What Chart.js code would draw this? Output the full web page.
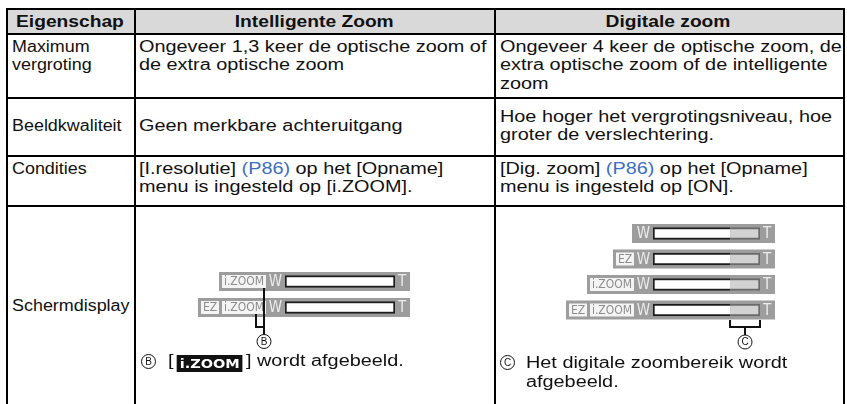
<!DOCTYPE html>
<html>
<head>
<meta charset="utf-8">
<script src="https://cdn.jsdelivr.net/npm/chart.js@4.4.1/dist/chart.umd.min.js"></script>
<style>
  html, body { margin: 0; padding: 0; background: #fff; }
  #page { position: relative; width: 847px; height: 404px; overflow: hidden; font-family: "Liberation Sans", Arial, sans-serif; color: #111; }
  .rule { position: absolute; background: #000; }
  .txt { position: absolute; white-space: pre; font-size: 16px; line-height: 18.5px; transform-origin: 0 0; }
  .head { position: absolute; height: 25px; line-height: 25px; text-align: center; font-weight: bold; font-size: 16px; }
  .head span { display: inline-block; transform: scaleX(1.2); }
  .link { color: #3d6ebf; }
  .circ { position: absolute; width: 13px; height: 13px; border: 1px solid #111; border-radius: 50%; font-size: 10px; line-height: 13px; text-align: center; }
  .zbox { display: inline-block; background: #111; color: #fff; font-family: "Liberation Sans Narrow", "DejaVu Sans Condensed", sans-serif; font-weight: bold; font-size: 13px; line-height: 17px; padding: 0 2px; margin: 0 3px; vertical-align: -2px; }
  canvas { position: absolute; }
</style>
</head>
<body>
<div id="page">
  <canvas id="intelligent" width="359" height="198" style="left:135px; top:206px; width:359px; height:198px;"></canvas>
  <canvas id="digital" width="348" height="198" style="left:495px; top:206px; width:348px; height:198px;"></canvas>
</div>
<script>
const columnTitles = ['Eigenschap', 'Intelligente Zoom', 'Digitale zoom'];
const properties = [['Maximum', 'vergroting'], ['Beeldkwaliteit'], ['Condities'], ['Schermdisplay']];
const intelligentZoom = [
  ['Ongeveer 1,3 keer de optische zoom of', 'de extra optische zoom'],
  ['Geen merkbare achteruitgang'],
  ['[I.resolutie] (P86) op het [Opname]', 'menu is ingesteld op [i.ZOOM].']
];
const digitalZoom = [
  ['Ongeveer 4 keer de optische zoom, de', 'extra optische zoom of de intelligente', 'zoom'],
  ['Hoe hoger het vergrotingsniveau, hoe', 'groter de verslechtering.'],
  ['[Dig. zoom] (P86) op het [Opname]', 'menu is ingesteld op [ON].']
];

// zoom bar displays: optical part (white) and digital part (light grey), in % of the bar
const intelligentRows = ['i.ZOOM', 'EZ i.ZOOM'];
const intelligentOptical = [100, 100];
const intelligentDigital = [0, 0];
const digitalRows = ['', 'EZ', 'i.ZOOM', 'EZ i.ZOOM'];
const digitalOptical = [72, 72, 72, 72];
const digitalDigital = [28, 28, 28, 28];

const intelligentNote = 'wordt afgebeeld.';
const digitalNote = ['Het digitale zoombereik wordt', 'afgebeeld.'];

const colEdges = [6, 134, 494, 843];
const rowEdges = [8, 33, 97, 155, 205];
const tableBottom = 408;
const rowAlign = ['top', 'middle', 'top', 'middle'];
const textPad = [6, 4.5, 5.5];
const lineH = 18.5;

const page = document.getElementById('page');

function add(cls, css, html) {
  const d = document.createElement('div');
  d.className = cls;
  Object.assign(d.style, css);
  if (html !== undefined) d.innerHTML = html;
  page.appendChild(d);
  return d;
}

function markup(line) {
  return line.replace('(P86)', '<span class="link">(P86)</span>');
}

// header background
add('', { position: 'absolute', left: colEdges[0] + 'px', top: rowEdges[0] + 'px',
  width: (colEdges[3] - colEdges[0]) + 'px', height: (rowEdges[1] - rowEdges[0]) + 'px', background: '#d9d9d9' });

columnTitles.forEach((t, c) => {
  add('head', { left: colEdges[c] + 'px', top: (rowEdges[0] + 1) + 'px', width: (colEdges[c + 1] - colEdges[c]) + 'px' },
    '<span>' + t + '</span>');
});

// body cells
for (let r = 0; r < properties.length; r++) {
  const top = rowEdges[r + 1];
  const bottom = r + 2 < rowEdges.length ? rowEdges[r + 2] : tableBottom;
  const cells = [properties[r], intelligentZoom[r], digitalZoom[r]];
  cells.forEach((lines, c) => {
    if (!lines) return;
    const y = rowAlign[r] === 'top' ? top + 4.75 : (top + bottom) / 2 - lines.length * lineH / 2;
    const scale = c === 0 ? 1.12 : 1.24;
    add('txt', { left: (colEdges[c] + textPad[c]) + 'px', top: y + 'px', transform: 'scaleX(' + scale + ')' },
      lines.map(markup).join('\n'));
  });
}

// rules
rowEdges.forEach(y => add('rule', { left: colEdges[0] + 'px', top: y + 'px', width: (colEdges[3] - colEdges[0] + 1.5) + 'px', height: '1.5px' }));
colEdges.forEach(x => add('rule', { left: x + 'px', top: rowEdges[0] + 'px', width: '1.5px', height: (tableBottom - rowEdges[0]) + 'px' }));

// captions under the displays
add('circ', { left: '141px', top: '353.5px' }, 'B');
add('txt', { left: '168px', top: '352.2px', transform: 'scaleX(1.24)' },
  '[<span class="zbox">i.ZOOM</span>] ' + intelligentNote);
add('circ', { left: '500px', top: '354.5px' }, 'C');
add('txt', { left: '526px', top: '353.2px', transform: 'scaleX(1.24)', lineHeight: '19px' }, digitalNote.join('\n'));

const narrow = '"Liberation Sans Narrow", "DejaVu Sans Condensed", sans-serif';

const zoomBars = {
  id: 'zoomBars',
  beforeDatasetsDraw(chart) {
    const ctx = chart.ctx;
    const xs = chart.scales.x;
    const x0 = xs.getPixelForValue(0), x1 = xs.getPixelForValue(100);
    const meta = chart.getDatasetMeta(0);
    chart.$labelBoxes = [];
    ctx.save();
    chart.data.labels.forEach((label, i) => {
      const yc = meta.data[i].y;
      const tags = label.split(' ').filter(Boolean);
      ctx.font = '12px ' + narrow;
      let right = x0 - 19;
      const boxes = [];
      tags.slice().reverse().forEach(tag => {
        const w = Math.round(ctx.measureText(tag).width) + 4;
        boxes.push({ tag: tag, left: right - w, right: right });
        right -= w + 3;
      });
      const bgLeft = tags.length ? right : x0 - 21;
      ctx.fillStyle = '#9d9d9d';
      ctx.fillRect(bgLeft, yc - 9.5, x1 + 15 - bgLeft, 19);
      ctx.textAlign = 'center';
      ctx.textBaseline = 'middle';
      boxes.forEach(b => {
        ctx.fillStyle = '#f4f4f4';
        ctx.fillRect(b.left, yc - 6.5, b.right - b.left, 13);
        ctx.fillStyle = '#8c8c8c';
        ctx.fillText(b.tag, (b.left + b.right) / 2, yc + 0.5);
      });
      ctx.font = '15px ' + narrow;
      ctx.fillStyle = '#ececec';
      ctx.textAlign = 'right';
      ctx.fillText('W', x0 - 3, yc + 1);
      ctx.textAlign = 'left';
      ctx.fillText('T', x1 + 3, yc + 1);
      chart.$labelBoxes.push(boxes);
    });
    ctx.restore();
  },
  afterDatasetsDraw(chart, args, opts) {
    const mark = opts.mark;
    if (!mark) return;
    const ctx = chart.ctx;
    const meta = chart.getDatasetMeta(0);
    const xs = chart.scales.x;
    let cx, cy;
    ctx.save();
    ctx.strokeStyle = '#111';
    ctx.lineWidth = 2;
    ctx.beginPath();
    if (mark === 'B') {
      const b0 = chart.$labelBoxes[0].find(b => b.tag === 'i.ZOOM');
      const b1 = chart.$labelBoxes[1].find(b => b.tag === 'i.ZOOM');
      const y0 = meta.data[0].y, y1 = meta.data[1].y;
      cx = b0.right - 2;
      cy = y1 + 34;
      ctx.moveTo(cx, y0 + 6.5);
      ctx.lineTo(cx, cy - 7);
      ctx.moveTo(b1.right - 10, y1 + 6.5);
      ctx.lineTo(b1.right - 10, y1 + 19.5);
      ctx.lineTo(cx + 1, y1 + 19.5);
    } else {
      const last = meta.data.length - 1;
      const y = meta.data[last].y;
      const xa = xs.getPixelForValue(chart.data.datasets[0].data[last]);
      const xb = xs.getPixelForValue(100);
      cx = (xa + xb) / 2;
      cy = y + 32;
      ctx.moveTo(xa, y + 10);
      ctx.lineTo(xa, y + 17);
      ctx.lineTo(xb, y + 17);
      ctx.lineTo(xb, y + 10);
      ctx.moveTo(cx, y + 17);
      ctx.lineTo(cx, cy - 7);
    }
    ctx.stroke();
    ctx.lineWidth = 1;
    ctx.beginPath();
    ctx.arc(cx, cy, 7, 0, Math.PI * 2);
    ctx.stroke();
    ctx.fillStyle = '#111';
    ctx.font = '10px "Liberation Sans", sans-serif';
    ctx.textAlign = 'center';
    ctx.textBaseline = 'middle';
    ctx.fillText(mark, cx, cy + 0.5);
    ctx.restore();
  }
};

function DrawZoomBars(elementId, rows, optical, digital, mark, padding) {
  const config = {
    type: 'bar',
    data: {
      labels: rows,
      datasets: [{
        data: optical,
        backgroundColor: '#ffffff',
        borderColor: '#1c1c1c',
        borderSkipped: false,
        borderWidth: (c) => ({ top: 2, bottom: 2, left: 2, right: digital[c.dataIndex] > 0 ? 0 : 2 }),
        barThickness: 12,
      }, {
        data: digital,
        backgroundColor: '#d2d2d2',
        borderColor: '#6a6a6a',
        borderSkipped: false,
        borderWidth: (c) => c.raw > 0 ? { top: 2, bottom: 2, left: 0, right: 2 } : 0,
        barThickness: 12,
      }]
    },
    options: {
      indexAxis: 'y',
      responsive: false,
      animation: false,
      devicePixelRatio: 1,
      layout: { padding: padding },
      scales: {
        x: { stacked: true, min: 0, max: 100, display: false },
        y: { stacked: true, display: false }
      },
      plugins: {
        legend: { display: false },
        tooltip: { enabled: false },
        zoomBars: { mark: mark }
      }
    },
    plugins: [zoomBars]
  };
  new Chart(document.getElementById(elementId), config);
}

DrawZoomBars('intelligent', intelligentRows, intelligentOptical, intelligentDigital, 'B',
  { left: 150, right: 99, top: 62.5, bottom: 83.5 });
DrawZoomBars('digital', digitalRows, digitalOptical, digitalDigital, 'C',
  { left: 158, right: 83, top: 14.75, bottom: 81.25 });
</script>
</body>
</html>
